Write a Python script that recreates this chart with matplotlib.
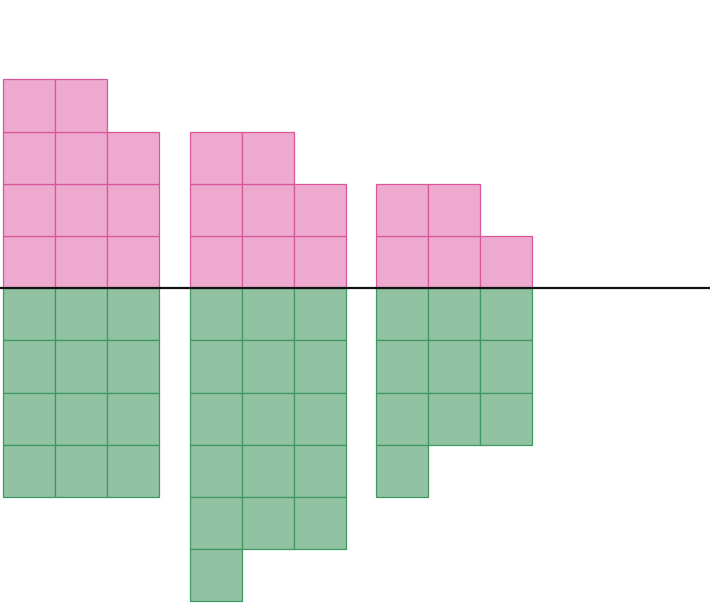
import matplotlib.pyplot as plt
from matplotlib.patches import Rectangle

# counts of squares per group, above and below the baseline
groups = ["A", "B", "C"]
top_counts = [11, 8, 5]
bottom_counts = [12, 16, 10]

ncols = 3
gap = 0.59

pink_face, pink_edge = "#eea9cf", "#d6589a"
green_face, green_edge = "#91c3a2", "#3f9862"

fig = plt.figure(figsize=(7.10, 6.06), dpi=100)
ax = fig.add_axes([0, 0, 1, 1])


def draw_stack(ax, x0, n, direction, face, edge):
    for k in range(n):
        row, col = divmod(k, ncols)
        y = row if direction > 0 else -(row + 1)
        ax.add_patch(Rectangle((x0 + col, y), 1, 1, facecolor=face,
                               edgecolor=edge, linewidth=0.9))


for i, g in enumerate(groups):
    x0 = i * (ncols + gap)
    draw_stack(ax, x0, top_counts[i], 1, pink_face, pink_edge)
    draw_stack(ax, x0, bottom_counts[i], -1, green_face, green_edge)

ax.axhline(0, color="#111111", linewidth=1.6, zorder=5)

ax.set_xlim(-0.058, 13.596)
ax.set_ylim(-6.09, 5.52)
ax.axis("off")

fig.savefig("out.png", dpi=100)
